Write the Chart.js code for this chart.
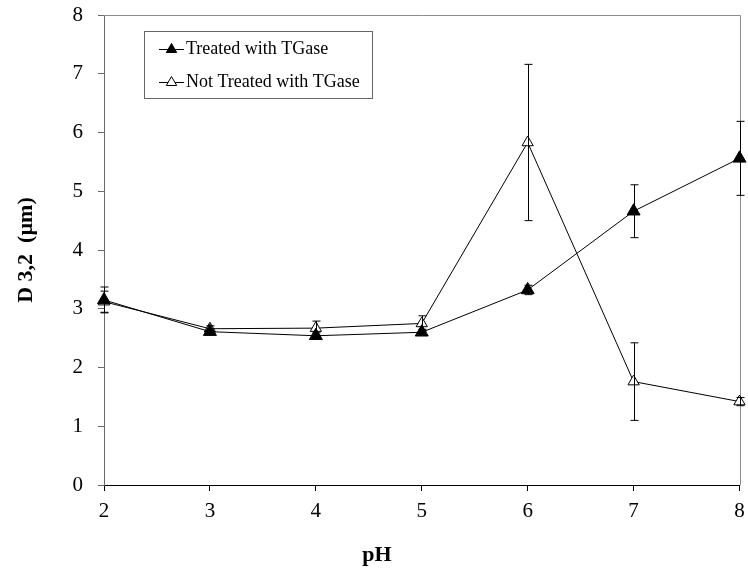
<!DOCTYPE html>
<html>
<head>
<meta charset="utf-8">
<script src="https://cdn.jsdelivr.net/npm/chart.js@4"></script>
<style>
  body { margin: 0; background: #fff; }
  #wrap { width: 748px; height: 568px; }
</style>
</head>
<body>
<div id="wrap"><canvas id="chart" width="748" height="568"></canvas></div>
<script>
const phValues = [2, 3, 4, 5, 6, 7, 8];
const treated = [3.15, 2.61, 2.54, 2.60, 3.32, 4.66, 5.56];
const treatedErr = [0.22, 0.05, 0.05, 0.05, 0.08, 0.45, 0.63];
const notTreated = [3.12, 2.66, 2.67, 2.75, 5.83, 1.76, 1.42];
const notTreatedErr = [0.18, 0.05, 0.12, 0.13, 1.33, 0.66, 0.07];
const seriesNames = ['Treated with TGase', 'Not Treated with TGase'];

const serif = "'Liberation Serif', 'Times New Roman', serif";

const toPoints = vals => phValues.map((ph, i) => ({ x: ph, y: vals[i] }));

// error bars drawn from each dataset's errors array
const errorBars = {
  id: 'errorBars',
  afterDatasetsDraw(chart) {
    const { ctx, scales: { x, y } } = chart;
    ctx.save();
    ctx.strokeStyle = '#000';
    ctx.lineWidth = 1;
    chart.data.datasets.forEach(ds => {
      ds.data.forEach((p, j) => {
        const e = ds.errors[j];
        const px = Math.round(x.getPixelForValue(p.x)) + 0.5;
        const top = y.getPixelForValue(p.y + e);
        const bot = y.getPixelForValue(p.y - e);
        ctx.beginPath();
        ctx.moveTo(px, top); ctx.lineTo(px, bot);
        ctx.moveTo(px - 4, top); ctx.lineTo(px + 4, top);
        ctx.moveTo(px - 4, bot); ctx.lineTo(px + 4, bot);
        ctx.stroke();
      });
    });
    ctx.restore();
  }
};

// top and right frame lines
const frame = {
  id: 'frame',
  beforeDatasetsDraw(chart) {
    const { ctx, chartArea: a } = chart;
    ctx.save();
    ctx.strokeStyle = '#8c8c8c';
    ctx.lineWidth = 1;
    ctx.beginPath();
    ctx.moveTo(a.left, Math.round(a.top) + 0.5);
    ctx.lineTo(Math.round(a.right) + 0.5, Math.round(a.top) + 0.5);
    ctx.lineTo(Math.round(a.right) + 0.5, a.bottom);
    ctx.stroke();
    ctx.restore();
  }
};

// boxed legend inside the plot, and the pH title
const boxLegend = {
  id: 'boxLegend',
  afterDraw(chart) {
    const { ctx } = chart;
    ctx.save();
    ctx.fillStyle = '#fff';
    ctx.fillRect(144.5, 31.5, 228, 67);
    ctx.strokeStyle = '#666';
    ctx.lineWidth = 1;
    ctx.strokeRect(144.5, 31.5, 228, 67);
    chart.data.datasets.forEach((ds, i) => {
      const yy = i === 0 ? 49.5 : 82.5;
      ctx.strokeStyle = '#000';
      ctx.beginPath();
      ctx.moveTo(159, yy); ctx.lineTo(184, yy);
      ctx.stroke();
      ctx.fillStyle = ds.pointBackgroundColor;
      ctx.strokeStyle = '#000';
      Chart.helpers.drawPoint(ctx, { pointStyle: 'triangle', radius: 6, borderWidth: 1 }, 171.5, yy);
      ctx.fillStyle = '#000';
      ctx.font = '18px ' + serif;
      ctx.textBaseline = 'middle';
      ctx.textAlign = 'left';
      ctx.fillText(ds.label, 186, yy);
    });
    ctx.font = 'bold 22px ' + serif;
    ctx.textAlign = 'center';
    ctx.textBaseline = 'middle';
    ctx.fillText('pH', 377, 555);
    ctx.restore();
  }
};

new Chart(document.getElementById('chart'), {
  type: 'line',
  data: {
    datasets: [
      {
        label: seriesNames[0],
        data: toPoints(treated),
        errors: treatedErr,
        borderColor: '#000',
        borderWidth: 1,
        pointStyle: 'triangle',
        pointRadius: 7.5,
        pointBackgroundColor: '#000',
        pointBorderColor: '#000',
        pointBorderWidth: 1,
        clip: false
      },
      {
        label: seriesNames[1],
        data: toPoints(notTreated),
        errors: notTreatedErr,
        borderColor: '#000',
        borderWidth: 1,
        pointStyle: 'triangle',
        pointRadius: 6.5,
        pointBackgroundColor: '#fff',
        pointBorderColor: '#000',
        pointBorderWidth: 1,
        clip: false
      }
    ]
  },
  options: {
    responsive: false,
    animation: false,
    layout: { padding: { top: 15, right: 6.5, left: 0, bottom: 0 } },
    plugins: {
      legend: { display: false },
      tooltip: { enabled: false }
    },
    scales: {
      x: {
        type: 'linear',
        min: 2,
        max: 8,
        afterFit: s => { s.height = 83; s.paddingLeft = 0; s.paddingRight = 0; },
        border: { display: true, color: '#000', width: 1 },
        grid: { drawOnChartArea: false, drawTicks: true, tickLength: 6, tickColor: '#000' },
        ticks: { stepSize: 1, color: '#000', padding: 8, font: { family: serif, size: 21 } }
      },
      y: {
        min: 0,
        max: 8,
        afterFit: s => { s.width = 104; s.paddingTop = 0; s.paddingBottom = 0; },
        border: { display: true, color: '#6a6a6a', width: 1 },
        grid: { drawOnChartArea: false, drawTicks: true, tickLength: 6, tickColor: '#6a6a6a' },
        ticks: { stepSize: 1, color: '#000', padding: 15, font: { family: serif, size: 21 } },
        title: {
          display: true,
          text: 'D 3,2  (\u00b5m)',
          color: '#000',
          padding: { top: 13, bottom: 0 },
          font: { family: serif, size: 22, weight: 'bold' }
        }
      }
    }
  },
  plugins: [frame, errorBars, boxLegend]
});
</script>
</body>
</html>
